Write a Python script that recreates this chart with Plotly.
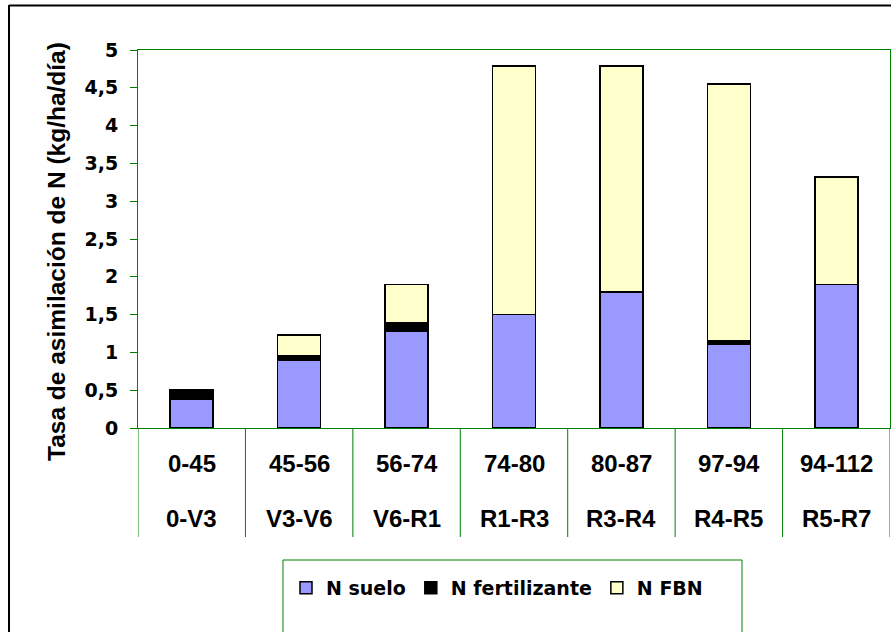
import plotly.graph_objects as go

periodos = ["0-45", "45-56", "56-74", "74-80", "80-87", "97-94", "94-112"]
estados = ["0-V3", "V3-V6", "V6-R1", "R1-R3", "R3-R4", "R4-R5", "R5-R7"]
n_suelo = [0.38, 0.90, 1.28, 1.50, 1.80, 1.11, 1.90]
n_fertilizante = [0.13, 0.06, 0.11, 0.0, 0.0, 0.04, 0.0]
n_fbn = [0.0, 0.27, 0.51, 3.29, 2.99, 3.40, 1.42]

y_title = "Tasa de asimilación de N (kg/ha/día)"
GREEN = "#008000"

# plot area geometry (pixels) used to convert to paper fractions
L, R, T, B = 138, 1, 50, 204
W, H = 891, 632
PW, PH = W - L - R, H - T - B

def px_x(x):
    return (x - L) / PW

def px_y(y):
    return (H - B - y) / PH

fig = go.Figure()
line = dict(color="black", width=1.5)
fig.add_trace(go.Bar(name="N suelo", x=list(range(len(periodos))), y=n_suelo,
                     marker=dict(color="#9999FF", line=line)))
fig.add_trace(go.Bar(name="N fertilizante", x=list(range(len(periodos))), y=n_fertilizante,
                     marker=dict(color="#000000", line=line)))
fig.add_trace(go.Bar(name="N FBN", x=list(range(len(periodos))), y=n_fbn,
                     marker=dict(color="#FFFFCC", line=line)))

shapes = []
# category dividers below the axis
for i in range(len(periodos) + 1):
    shapes.append(dict(type="line", xref="x", yref="paper", x0=i - 0.5, x1=i - 0.5,
                       y0=0, y1=px_y(537), line=dict(color=GREEN, width=1)))
# legend box
shapes.append(dict(type="rect", xref="paper", yref="paper", x0=px_x(283), x1=px_x(742),
                   y0=px_y(560), y1=px_y(660), line=dict(color=GREEN, width=1)))
# outer chart border (top and left edges visible)
shapes.append(dict(type="line", xref="paper", yref="paper", x0=px_x(9), x1=px_x(900),
                   y0=px_y(5.5), y1=px_y(5.5), line=dict(color="black", width=2)))
shapes.append(dict(type="line", xref="paper", yref="paper", x0=px_x(9), x1=px_x(9),
                   y0=px_y(5), y1=px_y(660), line=dict(color="black", width=2)))

annotations = []
cat_font = dict(family="Liberation Sans, Arial", size=24, color="black", weight="bold")
for i, (p, e) in enumerate(zip(periodos, estados)):
    annotations.append(dict(x=i, y=px_y(463), xref="x", yref="paper", text=f"<b>{p}</b>",
                            showarrow=False, font=cat_font, xanchor="center", yanchor="middle"))
    annotations.append(dict(x=i, y=px_y(518.5), xref="x", yref="paper", text=f"<b>{e}</b>",
                            showarrow=False, font=cat_font, xanchor="center", yanchor="middle"))
annotations.append(dict(x=px_x(56), y=px_y(252), xref="paper", yref="paper",
                        text=f"<b>{y_title}</b>", textangle=-90, showarrow=False,
                        font=dict(family="Liberation Sans, Arial", size=24.5, color="black",
                                  weight="bold"),
                        xanchor="center", yanchor="middle"))

fig.update_layout(
    width=W, height=H,
    margin=dict(l=L, r=R, t=T, b=B, pad=0),
    paper_bgcolor="white", plot_bgcolor="white",
    barmode="stack", bargap=0.6,
    separators=",.",
    showlegend=True,
    legend=dict(orientation="h", x=px_x(286), xanchor="left", y=px_y(588), yanchor="middle",
                font=dict(family="DejaVu Sans", size=19, color="black", weight="bold"),
                bgcolor="rgba(0,0,0,0)", borderwidth=0, traceorder="normal"),
    xaxis=dict(range=[-0.5, len(periodos) - 0.5], showticklabels=False, ticks="",
               showgrid=False, zeroline=False, showline=True, linecolor=GREEN,
               linewidth=1, mirror=True),
    yaxis=dict(range=[0, 5], dtick=0.5, tick0=0, showgrid=False, zeroline=False,
               showline=True, linecolor=GREEN, linewidth=1, mirror=True,
               ticks="outside", ticklen=7, tickcolor=GREEN, ticklabelstandoff=8,
               tickfont=dict(family="DejaVu Sans", size=19, color="black", weight="bold")),
    shapes=shapes,
    annotations=annotations,
)

fig.write_html("out.html", config={"displayModeBar": False},
               post_script="document.body.style.margin='0';document.body.style.overflow='hidden';")
